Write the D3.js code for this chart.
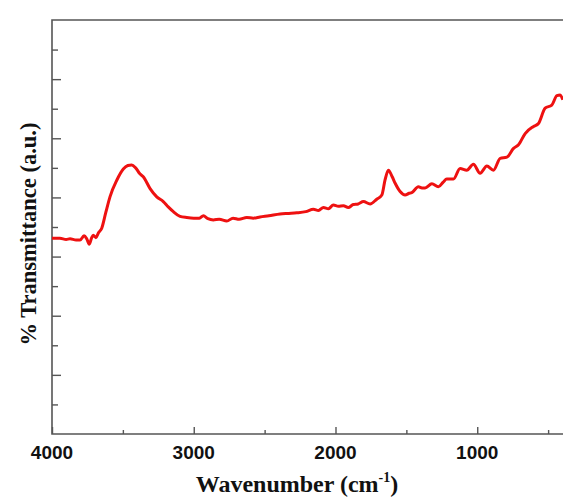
<!DOCTYPE html>
<html>
<head>
<meta charset="utf-8">
<script src="https://cdn.jsdelivr.net/npm/d3@7"></script>
<style>
  body { margin: 0; background: #fff; }
</style>
</head>
<body>
<script>
// FTIR spectrum
const wavenumber = [
  4000, 3944, 3900, 3873, 3830, 3802, 3774, 3755, 3737, 3720, 3709, 3690, 3673, 3649,
  3620, 3591, 3543, 3497, 3465, 3438, 3410, 3380, 3356, 3308, 3261, 3215, 3180, 3144,
  3097, 3049, 3000, 2960, 2932, 2900, 2862, 2820, 2767, 2723, 2680, 2626, 2580, 2532,
  2470, 2391, 2330, 2273, 2210, 2156, 2120, 2085, 2050, 2015, 1980, 1944, 1910, 1874,
  1840, 1803, 1756, 1709, 1673, 1650, 1627, 1600, 1579, 1544, 1509, 1480, 1462, 1415,
  1390, 1368, 1320, 1274, 1240, 1215, 1168, 1121, 1074, 1027, 980, 932, 886, 838,
  791, 744, 709, 662, 603, 568, 521, 474, 438, 415, 396
]
const transmittance = [
  33.1, 33.1, 32.9, 33.0, 32.8, 32.8, 33.5, 33.0, 32.1, 33.2, 33.6, 33.2, 34.0, 34.8,
  37.5, 40.1, 42.9, 44.8, 45.4, 45.5, 45.0, 44.0, 43.5, 41.5, 40.1, 39.3, 38.4, 37.6,
  36.8, 36.6, 36.5, 36.5, 36.9, 36.4, 36.2, 36.3, 36.0, 36.5, 36.3, 36.6, 36.5, 36.7,
  36.9, 37.2, 37.3, 37.4, 37.6, 38.0, 37.8, 38.3, 38.1, 38.7, 38.5, 38.6, 38.3, 38.8,
  38.9, 39.3, 38.9, 39.7, 40.4, 43.0, 44.6, 43.5, 42.4, 41.0, 40.4, 40.7, 40.8, 41.8,
  41.6, 41.6, 42.3, 41.8, 42.6, 43.1, 43.1, 44.9, 44.6, 45.6, 44.1, 45.3, 44.6, 46.6,
  46.8, 48.3, 48.9, 50.8, 52.0, 52.5, 55.1, 55.6, 57.2, 57.3, 56.5
]

const xMajor = [4000, 3000, 2000, 1000]
const xMinor = [3500, 2500, 1500, 500]
const yMajor = [10, 20, 30, 40, 50, 60]
const yMinor = [5, 15, 25, 35, 45, 55, 65]

const width = 563
const height = 498
const margin = { top: 20, right: 0, bottom: 64, left: 52 }
const axisColor = '#555'

const svg = d3.select('body').append('svg')
  .attr('width', width)
  .attr('height', height)
  .attr('viewBox', [0, 0, width, height])

const x = d3.scaleLinear().domain([4000, 395]).range([margin.left, width - margin.right])
const y = d3.scaleLinear().domain([0, 70]).range([height - margin.bottom, margin.top])

const data = wavenumber.map((w, i) => [w, transmittance[i]])

// frame: top, left, bottom (right side is cut off)
svg.append('path')
  .attr('d', `M${width},${y(70)}H${x(4000)}V${y(0)}H${width}`)
  .attr('fill', 'none')
  .attr('stroke', axisColor)
  .attr('stroke-width', 1.6)

// inward ticks
const yAxis = (vals, len) => d3.axisRight(y).tickValues(vals).tickSize(len).tickFormat('')
svg.append('g').attr('transform', `translate(${x(4000)},0)`).call(yAxis(yMajor, 9))
svg.append('g').attr('transform', `translate(${x(4000)},0)`).call(yAxis(yMinor, 6))

const xAxis = (vals, len) => d3.axisTop(x).tickValues(vals).tickSize(len).tickFormat('')
svg.append('g').attr('transform', `translate(0,${y(0)})`).call(xAxis(xMajor, 7))
svg.append('g').attr('transform', `translate(0,${y(0)})`).call(xAxis(xMinor, 4))

svg.selectAll('.domain').remove()
svg.selectAll('.tick line').attr('stroke', axisColor).attr('stroke-width', 1.4)

// tick labels
svg.append('g')
  .selectAll('text')
  .data(xMajor)
  .join('text')
    .attr('x', d => x(d))
    .attr('y', 459)
    .attr('text-anchor', 'middle')
    .attr('font-family', 'Liberation Sans, Arial, sans-serif')
    .attr('font-weight', 'bold')
    .attr('font-size', 19)
    .attr('fill', '#111')
    .text(d => d)

// axis titles
const xTitle = svg.append('text')
  .attr('x', 297)
  .attr('y', 492)
  .attr('text-anchor', 'middle')
  .attr('font-family', 'Liberation Serif, Times New Roman, serif')
  .attr('font-weight', 'bold')
  .attr('font-size', 24)
  .attr('fill', '#111')
xTitle.append('tspan').text('Wavenumber (cm')
xTitle.append('tspan').attr('font-size', 14).attr('dy', -10).text('-1')
xTitle.append('tspan').attr('dy', 10).text(')')

svg.append('text')
  .attr('transform', 'translate(36,234) rotate(-90)')
  .attr('text-anchor', 'middle')
  .attr('font-family', 'Liberation Serif, Times New Roman, serif')
  .attr('font-weight', 'bold')
  .attr('font-size', 22.5)
  .attr('fill', '#111')
  .text('% Transmittance (a.u.)')

// spectrum
const line = d3.line()
  .curve(d3.curveMonotoneX)
  .x(d => x(d[0]))
  .y(d => y(d[1]))

svg.append('path')
  .datum(data)
  .attr('d', line)
  .attr('fill', 'none')
  .attr('stroke', '#ee1111')
  .attr('stroke-width', 3)
  .attr('stroke-linejoin', 'round')
</script>
</body>
</html>
